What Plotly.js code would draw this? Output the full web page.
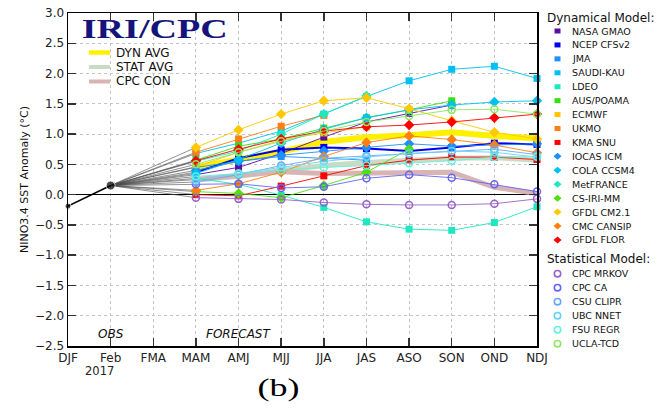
<!DOCTYPE html>
<html><head><meta charset="utf-8">
<script src="https://cdn.plot.ly/plotly-3.0.1.min.js"></script>
<style>html,body{margin:0;padding:0;background:#fff}#chart{width:668px;height:411px}</style>
</head><body><div id="chart"></div>
<script>
// ---- data ----
const categories = ['DJF','Feb','FMA','MAM','AMJ','MJJ','JJA','JAS','ASO','SON','OND','NDJ'];
const seasons = ['MAM','AMJ','MJJ','JJA','JAS','ASO','SON','OND','NDJ'];
const obsSeasons = ['DJF','Feb'];
const obsValues = [-0.19, 0.15];

const nasaGmao  = [0.33, 0.45, 0.68, 0.95, 1.20, 1.34, 1.48];
const ncepCfsv2 = [0.37, 0.60, 0.74, 0.78, 0.76, 0.72, 0.78, 0.85, 0.83];
const jma       = [0.45, 0.55, 0.63, 0.60, 0.57];
const saudiKau  = [0.68, 0.85, 1.05, 1.33, 1.62, 1.88, 2.07, 2.12, 1.92];
const ldeo      = [0.27, 0.17, -0.01, -0.21, -0.45, -0.57, -0.59, -0.46, -0.20];
const ausPoama  = [0.57, 0.80, 0.92, 1.10, 1.27, 1.40, 1.55];
const ecmwf     = [0.46, 0.70, 0.90, 1.02, 1.12];
const ukmo      = [0.70, 0.92, 1.13, 1.31];
const kmaSnu    = [0.00, -0.02, 0.14, 0.31, 0.48, 0.57, 0.62, 0.62, 0.58];
const iocasIcm  = [0.40, 0.55, 0.65, 0.72, 0.78, 0.84, 0.80, 0.82, 0.84];
const colaCcsm4 = [0.35, 0.58, 0.85, 1.08, 1.27, 1.40, 1.48, 1.53, 1.55];
const metFrance = [0.55, 0.72, 1.00, 1.33, 1.63];
const csIriMm   = [0.05, 0.02, -0.05, 0.15, 0.37, 0.75];
const gfdlCm21  = [0.78, 1.07, 1.33, 1.55, 1.60, 1.42, 1.22, 1.03, 0.92];
const cmcCansip = [0.07, 0.18, 0.37, 0.63, 0.86, 0.97, 0.91, 0.82, 0.69];
const gfdlFlor  = [0.56, 0.75, 0.92, 1.05, 1.12, 1.15, 1.20, 1.27, 1.33];
const cpcMrkov  = [-0.05, -0.07, -0.08, -0.13, -0.16, -0.17, -0.17, -0.15, -0.07];
const cpcCa     = [0.17, 0.18, 0.11, 0.13, 0.27, 0.33, 0.28, 0.17, 0.05];
const csuClipr  = [0.21, 0.33, 0.48, 0.60, 0.64, 0.68, 0.72, 0.75, 0.66];
const ubcNnet   = [0.25, 0.35, 0.45, 0.55, 0.62, 0.68, 0.72, 0.70, 0.62];
const fsuRegr   = [0.30, 0.35, 0.40, 0.45, 0.48, 0.52, 0.56, 0.62, 0.63];
const uclaTcd   = [0.50, 0.70, 0.88, 1.05, 1.20, 1.30, 1.40, 1.41, 1.33];
const dynAvg    = [0.45, 0.57, 0.71, 0.87, 0.95, 0.98, 1.03, 0.97, 0.93];
const statAvg   = [0.24, 0.30, 0.40, 0.48, 0.53, 0.57, 0.60, 0.61, 0.57];
const cpcCon    = [0.25, 0.32, 0.38, 0.35, 0.36, 0.37, 0.37, 0.12, 0.02];

// ---- styles ----
const models = [
  {name:'NASA GMAO',  data:nasaGmao,  color:'#5c0f9e', sym:'square'},
  {name:'NCEP CFSv2', data:ncepCfsv2, color:'#0000f0', sym:'square', lw:2},
  {name:'JMA',        data:jma,       color:'#1e8fff', sym:'square'},
  {name:'SAUDI-KAU',  data:saudiKau,  color:'#00bff5', sym:'square'},
  {name:'LDEO',       data:ldeo,      color:'#1de8c0', sym:'square'},
  {name:'AUS/POAMA',  data:ausPoama,  color:'#33e010', sym:'square'},
  {name:'ECMWF',      data:ecmwf,     color:'#ffc200', sym:'square'},
  {name:'UKMO',       data:ukmo,      color:'#ff7f10', sym:'square'},
  {name:'KMA SNU',    data:kmaSnu,    color:'#ff0000', sym:'square'},
  {name:'IOCAS ICM',  data:iocasIcm,  color:'#1e8fff', sym:'diamond'},
  {name:'COLA CCSM4', data:colaCcsm4, color:'#00bff5', sym:'diamond'},
  {name:'MetFRANCE',  data:metFrance, color:'#1de8c0', sym:'diamond'},
  {name:'CS-IRI-MM',  data:csIriMm,   color:'#4ee010', sym:'diamond'},
  {name:'GFDL CM2.1', data:gfdlCm21,  color:'#ffc800', sym:'diamond'},
  {name:'CMC CANSIP', data:cmcCansip, color:'#ff7f10', sym:'diamond'},
  {name:'GFDL FLOR',  data:gfdlFlor,  color:'#ff0000', sym:'diamond'},
  {name:'CPC MRKOV',  data:cpcMrkov,  color:'#9a62c8', sym:'circle-open'},
  {name:'CPC CA',     data:cpcCa,     color:'#6464f5', sym:'circle-open'},
  {name:'CSU CLIPR',  data:csuClipr,  color:'#64a8f5', sym:'circle-open'},
  {name:'UBC NNET',   data:ubcNnet,   color:'#64d2f5', sym:'circle-open'},
  {name:'FSU REGR',   data:fsuRegr,   color:'#64f0e0', sym:'circle-open'},
  {name:'UCLA-TCD',   data:uclaTcd,   color:'#8ae860', sym:'circle-open'}
];
const avgs = [
  {name:'STAT AVG', data:statAvg, color:'#c8dcc4', w:5},
  {name:'CPC CON',  data:cpcCon,  color:'#d8b4b4', w:5},
  {name:'DYN AVG',  data:dynAvg,  color:'#fff000', w:6}
];

const traces = [];
// fan lines from last observation to first forecast season
models.forEach(m => traces.push({
  x:[obsSeasons[1], seasons[0]], y:[obsValues[1], m.data[0]],
  mode:'lines', line:{color:'#4a4a4a', width:0.6}, hoverinfo:'skip', cliponaxis:false
}));
avgs.forEach(a => traces.push({
  x:seasons.slice(0, a.data.length), y:a.data, mode:'lines',
  line:{color:a.color, width:a.w}, cliponaxis:false
}));
models.forEach(m => {
  const open = m.sym === 'circle-open';
  traces.push({
    x:seasons.slice(0, m.data.length), y:m.data, mode:'lines+markers', name:m.name,
    line:{color:m.color, width:m.lw || 0.9},
    marker:{symbol:m.sym, color:m.color, size: m.sym==='diamond' ? 8 : 7,
            line:{color:m.color, width: open ? 1.5 : 0}},
    cliponaxis:false
  });
});
traces.push({
  x:obsSeasons, y:obsValues, mode:'lines+markers',
  line:{color:'#000', width:1.6}, marker:{color:'#000', size:[6,9]}, cliponaxis:false
});

// ---- layout helpers (positions in pixels converted to paper) ----
const L = 68, R = 537, T = 13, B = 346;
const px = v => (v - L) / (R - L);
const py = v => (B - v) / (B - T);

const shapes = [];
const annotations = [];

// in-plot legend for averages
[['DYN AVG','#fff000',52.5,4.5],['STAT AVG','#c8dcc4',67,4],['CPC CON','#d8b4b4',81.5,4]].forEach(([t,c,y,w]) => {
  shapes.push({type:'line', xref:'paper', yref:'paper', x0:px(89), x1:px(110), y0:py(y), y1:py(y),
               line:{color:c, width:w}});
  annotations.push({text:t, xref:'paper', yref:'paper', x:px(114), y:py(y), xanchor:'left', yanchor:'middle',
                    showarrow:false, font:{family:'DejaVu Sans', size:12, color:'#111'}});
});

// title
annotations.push({text:'<b>IRI/CPC</b>', xref:'paper', yref:'paper', x:px(155), y:py(29), xanchor:'center', yanchor:'middle',
  showarrow:false, font:{family:'Liberation Serif', size:27, color:'#14147c'}});

// right-hand model legend
const legX = 557.5, txtX = 570;
annotations.push({text:'Dynamical Model:', xref:'paper', yref:'paper', x:px(545), y:py(18), xanchor:'left', yanchor:'middle',
  showarrow:false, font:{family:'DejaVu Sans', size:12, color:'#111'}});
annotations.push({text:'Statistical Model:', xref:'paper', yref:'paper', x:px(545), y:py(259), xanchor:'left', yanchor:'middle',
  showarrow:false, font:{family:'DejaVu Sans', size:12, color:'#111'}});
models.forEach((m, i) => {
  const yy = i < 16 ? 31 + i * 13.93 : 273.7 + (i - 16) * 14;
  const base = {xref:'paper', yref:'paper', xsizemode:'pixel', ysizemode:'pixel', xanchor:px(legX), yanchor:py(yy)};
  if (m.sym === 'square') shapes.push(Object.assign({type:'rect', x0:-3, x1:3, y0:-2.5, y1:2.5, fillcolor:m.color, line:{width:0}}, base));
  else if (m.sym === 'diamond') shapes.push(Object.assign({type:'path', path:'M -4 0 L 0 3.5 L 4 0 L 0 -3.5 Z', fillcolor:m.color, line:{width:0}}, base));
  else shapes.push(Object.assign({type:'circle', x0:-3.2, x1:3.2, y0:-3.2, y1:3.2, fillcolor:'rgba(0,0,0,0)', line:{color:m.color, width:1.6}}, base));
  annotations.push({text:m.name, xref:'paper', yref:'paper', x:px(txtX), y:py(yy), xanchor:'left', yanchor:'middle',
    showarrow:false, font:{family:'DejaVu Sans', size:9.5, color:'#111'}});
});

// OBS / FORECAST labels, year, caption
annotations.push({text:'<i>OBS</i>', xref:'x', yref:'y', x:'Feb', y:-2.3, yanchor:'middle', showarrow:false,
  font:{family:'DejaVu Sans', size:12, color:'#111'}});
annotations.push({text:'<i>FORECAST</i>', xref:'x', yref:'y', x:'AMJ', y:-2.3, yanchor:'middle', showarrow:false,
  font:{family:'DejaVu Sans', size:12, color:'#111'}});
annotations.push({text:'2017', xref:'paper', yref:'paper', x:px(83), y:py(371), yanchor:'middle', showarrow:false,
  font:{family:'DejaVu Sans', size:11.5, color:'#222'}});
annotations.push({text:'(b)', xref:'paper', yref:'paper', x:px(278), y:py(388), yanchor:'middle', showarrow:false,
  font:{family:'Liberation Serif', size:25, color:'#000'}});

const axisCommon = {
  showline:true, linecolor:'#000', linewidth:1.5, mirror:'ticks',
  ticks:'inside', ticklen:8, tickwidth:1.5, tickcolor:'#333',
  showgrid:true, gridcolor:'#c4c4c4', griddash:'dot', gridwidth:1,
  tickfont:{family:'DejaVu Sans', size:12, color:'#222'}
};

const layout = {
  width:668, height:411,
  margin:{l:L, r:668-R, t:T, b:411-B},
  paper_bgcolor:'#fff', plot_bgcolor:'#fff',
  showlegend:false,
  xaxis:Object.assign({}, axisCommon, {
    type:'category', categoryorder:'array', categoryarray:categories,
    tickvals:categories, ticktext:categories, range:[0, categories.length - 1],
    zeroline:false
  }),
  yaxis:Object.assign({}, axisCommon, {
    range:[-2.5, 3.0], dtick:0.5, tick0:0, tickformat:'.1f',
    zeroline:true, zerolinecolor:'#000', zerolinewidth:1.4,
    title:{text:'NINO3.4 SST Anomaly (°C)', font:{family:'DejaVu Sans', size:11, color:'#111'}, standoff:4}
  }),
  shapes, annotations
};

Plotly.newPlot('chart', traces, layout, {staticPlot:true, displayModeBar:false}).then(() => {
  document.querySelectorAll('.annotation-text').forEach(el => {
    const t = el.textContent;
    if (t === 'IRI/CPC') { el.setAttribute('textLength', '146'); el.setAttribute('lengthAdjust', 'spacingAndGlyphs'); }
    if (t === '(b)') { el.setAttribute('textLength', '42'); el.setAttribute('lengthAdjust', 'spacingAndGlyphs'); }
  });
});
</script>
</body></html>
